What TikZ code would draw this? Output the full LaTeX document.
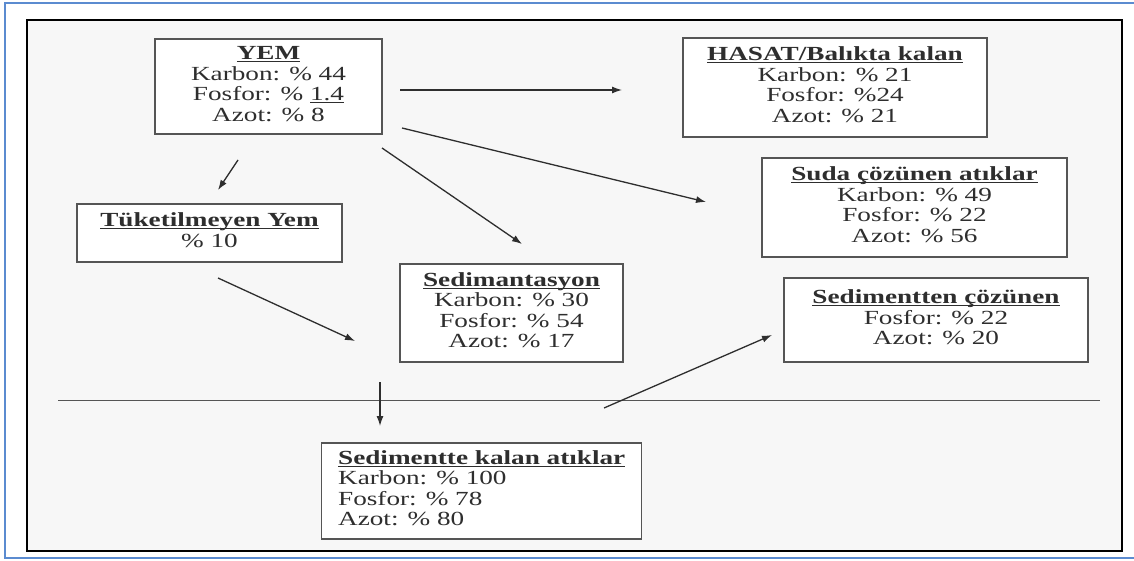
\documentclass[tikz,border=0pt]{standalone}
\usepackage{fontspec}
\setmainfont{Liberation Serif}
\usetikzlibrary{arrows.meta}
\definecolor{txt}{HTML}{2E2E2E}
\definecolor{bx}{HTML}{555555}
\definecolor{bg}{HTML}{F7F7F7}
\definecolor{frameblue}{HTML}{5B8BD0}
\tikzset{
  box/.style={draw=bx, line width=1.4pt, fill=white, text=txt,
    font=\fontsize{20}{20.5}\selectfont, inner sep=0pt},
  arr/.style={draw=txt, line width=1.3pt, -{Latex[length=10pt,width=7pt]}},
}
\newcommand{\ul}[1]{\setbox0\hbox{#1}\rlap{\rule[-2.6pt]{\wd0}{1.1pt}}\box0}
\newcommand{\hd}[1]{\ul{\textbf{#1}}}
\newcommand{\stc}[1]{\scalebox{1.36}[1]{\begin{tabular}{@{}c@{}}#1\end{tabular}}}
\newcommand{\stl}[1]{\scalebox{1.36}[1]{\begin{tabular}{@{}l@{}}#1\end{tabular}}}
\begin{document}
\begin{tikzpicture}[x=1pt,y=-1pt]
\useasboundingbox (0,0) rectangle (1134,561);
% frames
\draw[frameblue, line width=1.5pt] (1134,3) -- (5,3) -- (5,558) -- (1134,558);
\draw[black, line width=2.5pt, fill=bg] (27,20) rectangle (1122,551);
% boxes
\node[box, minimum width=227pt, minimum height=95pt] (yem) at (268.5,86.5)
  {\stc{\hd{YEM}\\Karbon: \% 44\\Fosfor: \% \ul{1.4}\\Azot: \% 8}};
\node[box, minimum width=304pt, minimum height=99pt] (hasat) at (835,87.5)
  {\stc{\hd{HASAT/Balıkta kalan}\\Karbon: \% 21\\Fosfor: \%24\\Azot: \% 21}};
\node[box, minimum width=265pt, minimum height=58pt] (tuk) at (209.5,233)
  {\stc{\hd{Tüketilmeyen Yem}\\\% 10}};
\node[box, minimum width=223pt, minimum height=98pt] (sedim) at (511.5,313)
  {\stc{\hd{Sedimantasyon}\\Karbon: \% 30\\Fosfor: \% 54\\Azot: \% 17}};
\node[box, minimum width=305pt, minimum height=99pt] (suda) at (914.5,207.5)
  {\stc{\hd{Suda çözünen atıklar}\\Karbon: \% 49\\Fosfor: \% 22\\Azot: \% 56}};
\node[box, minimum width=304pt, minimum height=84pt] (sedcoz) at (936,320)
  {\stc{\hd{Sedimentten çözünen}\\Fosfor: \% 22\\Azot: \% 20}};
\node[box, minimum width=320pt, minimum height=96pt, inner xsep=16pt, anchor=west] (kalan) at (321,491)
  {\stl{\hd{Sedimentte kalan atıklar}\\Karbon: \% 100\\Fosfor: \% 78\\Azot: \% 80}};
% separator line
\draw[bx, line width=0.8pt] (58,400) -- (1100,400);
% arrow end points
\coordinate (a1s) at (400,90);  \coordinate (a1e) at (622,90);
\coordinate (a2s) at (402,128); \coordinate (a2e) at (706,202);
\coordinate (a3s) at (382,148); \coordinate (a3e) at (522,244);
\coordinate (a4s) at (238,160); \coordinate (a4e) at (218,190);
\coordinate (a5s) at (218,278); \coordinate (a5e) at (355,341);
\coordinate (a6s) at (380,382); \coordinate (a6e) at (380,426);
\coordinate (a7s) at (604,408); \coordinate (a7e) at (772,335);
\draw[arr] (a1s) -- (a1e);
\draw[arr] (a2s) -- (a2e);
\draw[arr] (a3s) -- (a3e);
\draw[arr] (a4s) -- (a4e);
\draw[arr] (a5s) -- (a5e);
\draw[arr] (a6s) -- (a6e);
\draw[arr] (a7s) -- (a7e);
\end{tikzpicture}
\end{document}
